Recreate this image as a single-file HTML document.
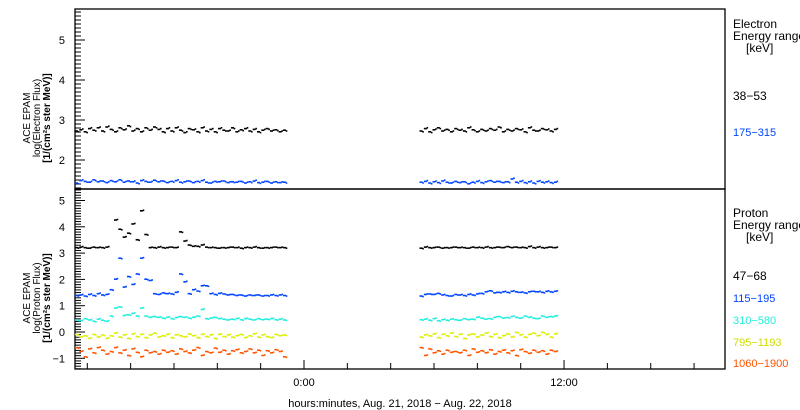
<!DOCTYPE html>
<html><head><meta charset="utf-8"><style>
html,body{margin:0;padding:0;background:#fff;}
svg{display:block;font-family:"Liberation Sans","DejaVu Sans",sans-serif;}
</style></head><body>
<svg id="chart" width="800" height="410" viewBox="0 0 800 410">
<g id="axes"></g>
<g id="marks"></g>
<g id="labels"></g>
</svg>
<script>
// ---- data ----
const seg1Start = -10.5, seg2Start = 5.4, stepH = 0.2;
const elec38 = [
[2.72,2.75,2.7,2.78,2.74,2.8,2.72,2.82,2.76,2.7,2.8,2.75,2.85,2.72,2.78,2.7,2.8,2.74,2.82,2.76,2.7,2.78,2.72,2.8,2.74,2.68,2.78,2.75,2.7,2.8,2.72,2.76,2.7,2.78,2.74,2.72,2.8,2.7,2.75,2.78,2.72,2.76,2.7,2.74,2.78,2.72,2.75,2.7,2.74],
[2.72,2.78,2.7,2.75,2.8,2.72,2.76,2.7,2.78,2.74,2.72,2.8,2.75,2.7,2.76,2.72,2.78,2.74,2.82,2.7,2.76,2.72,2.78,2.75,2.7,2.8,2.74,2.72,2.78,2.75,2.72,2.76]];
const elec175 = [
[1.42,1.48,1.46,1.44,1.5,1.45,1.47,1.43,1.48,1.45,1.5,1.44,1.47,1.45,1.42,1.48,1.46,1.44,1.49,1.45,1.47,1.43,1.46,1.48,1.44,1.45,1.47,1.43,1.46,1.48,1.44,1.42,1.46,1.45,1.47,1.43,1.45,1.44,1.46,1.42,1.45,1.47,1.43,1.44,1.46,1.42,1.45,1.43,1.44],
[1.44,1.46,1.42,1.45,1.43,1.47,1.44,1.42,1.46,1.43,1.45,1.4,1.44,1.46,1.43,1.45,1.48,1.44,1.46,1.43,1.45,1.52,1.44,1.46,1.43,1.45,1.42,1.46,1.44,1.45,1.43,1.44]];
const prot47 = [
[3.2,3.22,3.2,3.18,3.22,3.2,3.2,3.22,null,4.25,3.9,3.6,3.75,4.1,3.5,4.6,3.7,3.2,3.2,3.22,3.2,3.2,3.22,3.2,3.8,3.45,3.3,3.25,3.25,3.3,3.22,3.2,3.2,3.18,3.2,3.2,3.22,3.2,3.18,3.2,3.2,3.22,3.2,3.18,3.2,3.2,3.22,3.2,3.2],
[3.18,3.22,3.2,3.2,3.22,3.18,3.2,3.2,3.22,3.2,3.2,3.18,3.22,3.2,3.2,3.22,3.2,3.2,3.22,3.2,3.24,3.2,3.22,3.2,3.2,3.24,3.2,3.22,3.2,3.2,3.22,3.2]];
const prot115 = [
[1.38,1.4,1.36,1.42,1.38,1.45,1.4,1.42,1.6,2.0,2.8,1.7,2.1,1.8,2.2,2.8,2.0,1.95,1.45,1.42,1.48,1.45,1.44,1.5,2.2,1.9,1.45,1.6,1.55,1.75,1.75,1.45,1.42,1.46,1.44,1.4,1.42,1.38,1.4,1.36,1.4,1.38,1.4,1.36,1.38,1.4,1.38,1.4,1.38],
[1.36,1.42,1.44,1.42,1.46,1.4,1.38,1.36,1.42,1.4,1.38,1.42,1.4,1.44,1.46,1.52,1.56,1.48,1.5,1.52,1.5,1.54,1.52,1.5,1.48,1.52,1.54,1.52,1.5,1.54,1.52,1.54]];
const prot310 = [
[0.45,0.42,0.5,0.45,0.4,0.48,0.44,0.4,0.6,0.9,0.95,0.62,0.65,0.7,0.6,0.9,0.6,0.55,0.58,0.55,0.52,0.55,0.5,0.54,0.58,0.55,0.52,0.55,0.6,0.85,0.5,0.52,0.55,0.5,0.48,0.45,0.48,0.5,0.46,0.5,0.48,0.45,0.5,0.46,0.48,0.5,0.46,0.48,0.45],
[0.46,0.48,0.44,0.5,0.42,0.46,0.44,0.48,0.46,0.44,0.5,0.46,0.48,0.55,0.52,0.48,0.5,0.55,0.58,0.52,0.54,0.58,0.55,0.52,0.6,0.55,0.52,0.5,0.6,0.55,0.58,0.6]];
const prot795 = [
[-0.1,-0.2,-0.15,-0.25,-0.1,-0.2,-0.12,-0.25,-0.15,-0.05,-0.2,-0.12,-0.25,-0.08,-0.18,-0.1,-0.22,-0.12,-0.05,-0.2,-0.15,-0.1,-0.22,-0.12,-0.15,-0.2,-0.08,-0.15,-0.22,-0.1,-0.18,-0.12,-0.25,-0.1,-0.18,-0.12,-0.2,-0.15,-0.1,-0.22,-0.15,-0.08,-0.2,-0.12,-0.18,-0.22,-0.1,-0.15,-0.12],
[-0.2,-0.12,-0.15,-0.08,-0.22,-0.1,-0.15,-0.05,-0.18,-0.1,-0.25,-0.12,-0.08,-0.2,-0.12,-0.05,-0.18,-0.1,-0.22,-0.15,-0.08,-0.2,-0.02,-0.12,-0.2,-0.1,-0.05,-0.15,-0.02,-0.1,-0.2,-0.08]];
const prot1060 = [
[-0.6,-0.75,-0.95,-0.65,-0.8,-0.6,-0.7,-0.85,-0.75,-0.6,-0.8,-0.7,-0.9,-0.65,-0.78,-0.95,-0.7,-0.8,-0.75,-0.85,-0.7,-0.78,-0.72,-0.85,-0.65,-0.75,-0.8,-0.7,-0.6,-0.9,-0.75,-0.8,-0.62,-0.78,-0.7,-0.85,-0.72,-0.68,-0.8,-0.75,-0.65,-0.8,-0.7,-0.9,-0.72,-0.8,-0.68,-0.75,-0.95],
[-0.6,-0.9,-0.65,-0.8,-0.72,-0.85,-0.7,-0.78,-0.75,-0.8,-0.7,-0.9,-0.65,-0.78,-0.72,-0.8,-0.68,-0.85,-0.75,-0.7,-0.8,-0.72,-0.9,-0.68,-0.75,-0.82,-0.7,-0.78,-0.72,-0.85,-0.7,-0.75]];
const xTickHours = [-10,-8,-6,-4,-2,0,2,4,6,8,10,12,14,16,18];
const xLabels = [{h:0,t:"0:00"},{h:12,t:"12:00"}];
const topTicks = [2,3,4,5];
const botTicks = [-1,0,1,2,3,4,5];

// ---- scales ----
const L=75,R=725,T=9,MID=189,B=369;
const xs = h => 304 + 21.67*h;
const yTop = v => 240 - 40*v;
const yBot = v => 332 - 26.3*v;

const NS="http://www.w3.org/2000/svg";
function mk(tag, attrs, parent){const e=document.createElementNS(NS,tag);for(const k in attrs)e.setAttribute(k,attrs[k]);parent.appendChild(e);return e;}
const axes=document.getElementById('axes'), marks=document.getElementById('marks'), labels=document.getElementById('labels');

// frames
let f=mk('rect',{x:L,y:T,width:R-L,height:MID-T,fill:'none',stroke:'#000','stroke-width':1.3},axes);
 
f=mk('rect',{x:L,y:MID,width:R-L,height:B-MID,fill:'none',stroke:'#000','stroke-width':1.3},axes);
 

// y minor ticks
for(let v=1.3; v<=5.8; v+=0.1){const y=yTop(v); if(y<T||y>MID)continue;
 const major=Math.abs(v-Math.round(v))<0.01;
 const t=mk('line',{x1:L,x2:L+(major?10:6),y1:y,y2:y,stroke:'#000','stroke-width':1},axes);
  }
for(let v=-1.5; v<=5.4; v+=0.1){const y=yBot(v); if(y<MID||y>B)continue;
 const major=Math.abs(v-Math.round(v))<0.01;
 const t=mk('line',{x1:L,x2:L+(major?10:6),y1:y,y2:y,stroke:'#000','stroke-width':1},axes);
  }
topTicks.forEach(v=>{const t=mk('text',{x:L-10,y:yTop(v)+4,'font-size':11,'text-anchor':'end'},labels);t.textContent=v;
  });
botTicks.forEach(v=>{const t=mk('text',{x:L-10,y:yBot(v)+4,'font-size':11,'text-anchor':'end'},labels);t.textContent=(v<0?'\u2212'+(-v):v);
  });
xTickHours.forEach(h=>{const x=xs(h);const major=(h%12===0);
 const t=mk('line',{x1:x,x2:x,y1:B,y2:B-(major?9:6),stroke:'#000','stroke-width':1},axes);
  });
xLabels.forEach(o=>{const t=mk('text',{x:xs(o.h),y:386,'font-size':11,'text-anchor':'middle'},labels);t.textContent=o.t;
  });

// series
function drawSeries(arr, ys, color, name){
 const g=mk('g',{fill:color},marks);
  
 [seg1Start,seg2Start].forEach((s,si)=>{arr[si].forEach((v,i)=>{ if(v===null)return;
  const x=xs(s+stepH*i), y=ys(v);
  const r=mk('rect',{x:x-1.5,y:y-1,width:3,height:1.6},g);
   
  const r2=mk('rect',{x:x+1.2,y:ys(v+(i%2?0.02:-0.02))-1,width:1.6,height:1.6},g);
   
 });});
}
drawSeries(elec38,yTop,'#000','electron-38-53');
drawSeries(elec175,yTop,'#0044ff','electron-175-315');
drawSeries(prot47,yBot,'#000','proton-47-68');
drawSeries(prot115,yBot,'#0044ff','proton-115-195');
drawSeries(prot310,yBot,'#22eedd','proton-310-580');
drawSeries(prot795,yBot,'#ddee00','proton-795-1193');
drawSeries(prot1060,yBot,'#ff5500','proton-1060-1900');

// text labels
function txt(s,attrs,name){const t=mk('text',attrs,labels);t.textContent=s;return t;}
txt('hours:minutes, Aug. 21, 2018 \u2212 Aug. 22, 2018',{x:400,y:407,'font-size':11,'text-anchor':'middle'},'x-axis-title');
function ytitle(cy,lines,name){const g=mk('g',{transform:`translate(0,${cy}) rotate(-90)`},labels);
  
 lines.forEach((l,i)=>{const t=mk('text',{x:0,y:l.x,'font-size':l.fs,'text-anchor':'middle','font-weight':l.b?'bold':'normal'},g);t.textContent=l.t;
   });}
ytitle(118,[{x:30,fs:10,t:'ACE EPAM'},{x:40,fs:10,t:'log(Electron Flux)'},{x:50,fs:10,t:'[1/(cm\u00b2s ster MeV)]',b:1}],'top-y-axis-title');
ytitle(298,[{x:30,fs:10,t:'ACE EPAM'},{x:40,fs:10,t:'log(Proton Flux)'},{x:50,fs:10,t:'[1/(cm\u00b2s ster MeV)]',b:1}],'bottom-y-axis-title');
const LX=733;
txt('Electron',{x:LX,y:28,'font-size':12},'electron-legend-title');
txt('Energy range',{x:LX,y:40,'font-size':12},'electron-legend-subtitle');
txt('[keV]',{x:746,y:52,'font-size':12},'electron-legend-unit');
txt('38\u221253',{x:LX,y:100,'font-size':12,fill:'#000'},'legend-electron-38-53');
txt('175\u2212315',{x:LX,y:136,'font-size':11,fill:'#0044ff'},'legend-electron-175-315');
txt('Proton',{x:LX,y:217,'font-size':12},'proton-legend-title');
txt('Energy range',{x:LX,y:229,'font-size':12},'proton-legend-subtitle');
txt('[keV]',{x:746,y:241,'font-size':12},'proton-legend-unit');
txt('47\u221268',{x:LX,y:280,'font-size':12,fill:'#000'},'legend-proton-47-68');
txt('115\u2212195',{x:LX,y:302,'font-size':11,fill:'#0044ff'},'legend-proton-115-195');
txt('310\u2212580',{x:LX,y:324,'font-size':11,fill:'#22eedd'},'legend-proton-310-580');
txt('795\u22121193',{x:LX,y:346,'font-size':11,fill:'#ccdd00'},'legend-proton-795-1193');
txt('1060\u22121900',{x:LX,y:367,'font-size':11,fill:'#ff5500'},'legend-proton-1060-1900');
</script>
</body></html>
